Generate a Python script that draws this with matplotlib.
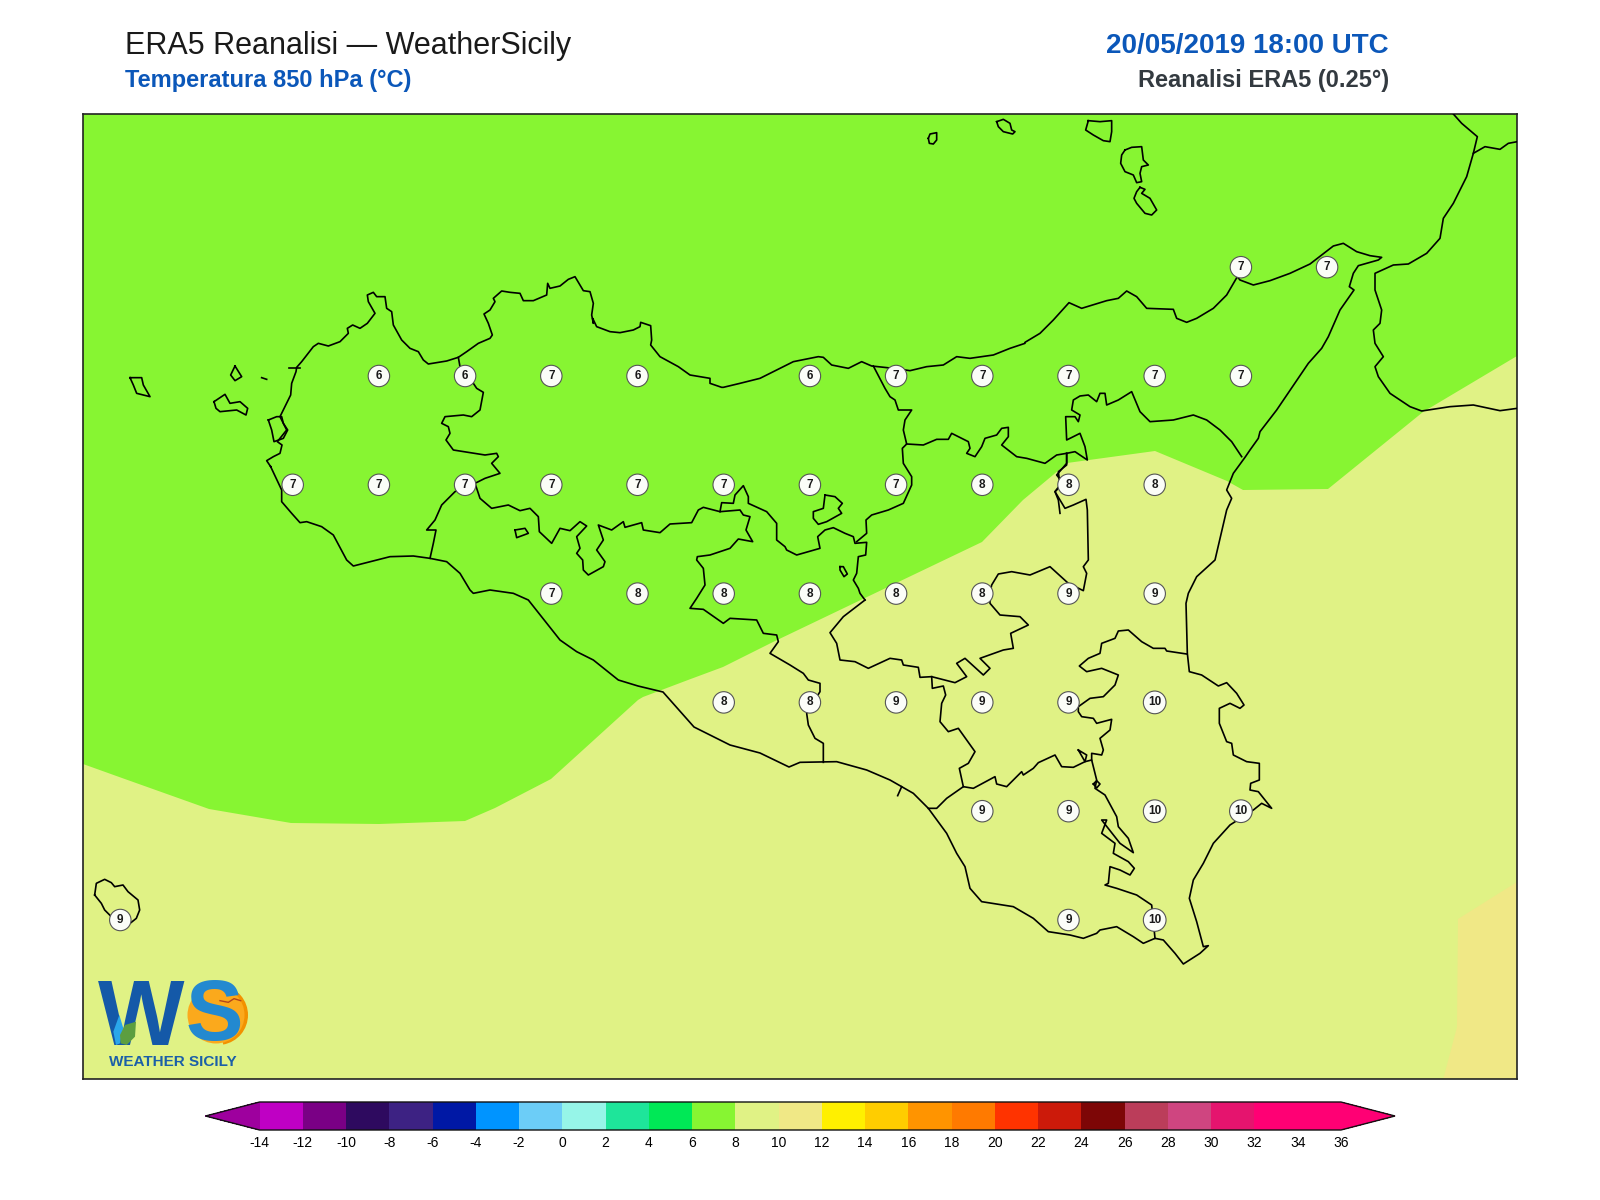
import numpy as np
import matplotlib
matplotlib.use('Agg')
import matplotlib.pyplot as plt
from matplotlib.colors import ListedColormap, BoundaryNorm
from matplotlib.colorbar import ColorbarBase
from matplotlib.patches import Circle, Wedge, Polygon

plt.rcParams['font.family'] = ['Liberation Sans', 'DejaVu Sans']
plt.rcParams['axes.unicode_minus'] = False

# colour scale
levels = list(range(-14, 38, 2))
tick_levels = list(range(-14, 38, 2))
band_colors = ['#bf00c4', '#7a0085', '#2e0a5f', '#3d2283', '#0018a5', '#0094ff', '#6ccdf7',
               '#96f5e8', '#1ee59a', '#00e856', '#87f532', '#e0f285', '#f0e886', '#fff000',
               '#ffcd00', '#ff9400', '#ff7a00', '#ff3300', '#cc1a0a', '#7d0606', '#bb3d5a',
               '#cf4580', '#e5146e', '#ff0074', '#ff0074']
under_color = '#9e009e'
over_color = '#ff0074'

# grid point temperatures, (lon, lat, value)
grid_lons = [15.25, 15.5,
             12.75, 13.0, 13.25, 13.5, 14.0, 14.25, 14.5, 14.75, 15.0, 15.25,
             12.5, 12.75, 13.0, 13.25, 13.5, 13.75, 14.0, 14.25, 14.5, 14.75, 15.0,
             13.25, 13.5, 13.75, 14.0, 14.25, 14.5, 14.75, 15.0,
             13.75, 14.0, 14.25, 14.5, 14.75, 15.0,
             14.5, 14.75, 15.0, 15.25,
             12.0, 14.75, 15.0]
grid_lats = [38.25, 38.25,
             38.0, 38.0, 38.0, 38.0, 38.0, 38.0, 38.0, 38.0, 38.0, 38.0,
             37.75, 37.75, 37.75, 37.75, 37.75, 37.75, 37.75, 37.75, 37.75, 37.75, 37.75,
             37.5, 37.5, 37.5, 37.5, 37.5, 37.5, 37.5, 37.5,
             37.25, 37.25, 37.25, 37.25, 37.25, 37.25,
             37.0, 37.0, 37.0, 37.0,
             36.75, 36.75, 36.75]
grid_vals = [7, 7,
             6, 6, 7, 6, 6, 7, 7, 7, 7, 7,
             7, 7, 7, 7, 7, 7, 7, 7, 8, 8, 8,
             7, 8, 8, 8, 8, 8, 9, 9,
             8, 8, 9, 9, 9, 10,
             9, 9, 10, 10,
             9, 9, 10]


def crop(ox, oy, pts, div=3.0):
    return np.array(pts, dtype=float) / div + [ox, oy]


# isotherms
iso8 = crop(0, 0, [(83, 764), (122, 778), (209, 809), (291, 823), (379, 824), (465, 821), (495, 808),
                   (551, 779), (638, 700), (643, 697), (688, 680), (723, 667), (773, 642), (867, 597),
                   (982, 542), (1023, 500), (1053, 475), (1067, 463), (1155, 451), (1227, 481),
                   (1243, 490), (1328, 489), (1423, 412), (1517, 356), (1517, 1080), (83, 1080)], div=1)
iso10 = crop(0, 0, [(1517, 882), (1458, 919), (1457, 1027), (1443, 1080), (1517, 1080)], div=1)

# Sicily coast, clockwise from the Trapani side
coast = np.vstack([
    crop(80, 260, [(572, 620), (560, 602), (580, 590), (600, 580), (606, 555), (592, 545), (620, 510),
                   (610, 490), (600, 470), (632, 405), (635, 370), (648, 335), (650, 322), (665, 305),
                   (700, 260), (715, 250), (745, 258), (780, 245), (805, 220), (802, 205), (818, 195),
                   (840, 205), (862, 190), (885, 160), (865, 125), (862, 105), (880, 97), (890, 110),
                   (915, 110), (920, 145), (935, 155), (940, 195), (965, 240), (990, 265), (1015, 275),
                   (1030, 300), (1045, 312), (1100, 303), (1135, 292), (1160, 275), (1195, 250),
                   (1230, 235), (1237, 225), (1225, 190), (1212, 162), (1230, 150), (1245, 125),
                   (1240, 115), (1265, 93), (1290, 97), (1320, 100), (1330, 122), (1360, 122),
                   (1400, 105), (1403, 70), (1410, 85), (1440, 78), (1465, 58), (1485, 50), (1497, 70),
                   (1510, 92), (1530, 95), (1540, 130), (1535, 165), (1540, 190)]),
    crop(440, 260, [(458, 175), (470, 200), (510, 215), (540, 218), (580, 210), (600, 200), (602, 187),
                    (632, 197), (635, 240), (632, 255), (660, 290), (715, 320), (750, 345), (810, 355),
                    (810, 370), (845, 382)]),
    crop(560, 340, [(490, 142), (540, 130), (600, 115), (700, 65), (775, 50), (790, 52), (815, 75),
                    (865, 85), (905, 65), (935, 78), (1000, 85), (1050, 92), (1100, 80), (1150, 75),
                    (1190, 50), (1230, 55), (1300, 45), (1350, 25), (1395, 10)]),
    crop(1000, 110, [(75, 697), (120, 670), (160, 630), (207, 578), (245, 595), (320, 572), (355, 565),
                     (380, 543), (410, 560), (440, 595), (520, 598), (530, 625), (560, 637), (590, 625),
                     (640, 595), (680, 555), (712, 500), (720, 510), (760, 525), (810, 512), (870, 490),
                     (930, 462), (1000, 408), (1030, 400), (1070, 425), (1110, 437), (1145, 442),
                     (1135, 450), (1075, 467), (1060, 490), (1048, 530), (1062, 540), (1020, 600),
                     (985, 680), (965, 715), (925, 760), (830, 900), (780, 965), (775, 985), (750, 1020),
                     (735, 1042), (700, 1090), (680, 1140), (695, 1165), (680, 1200)]),
    crop(800, 560, [(1245, 0), (1190, 50), (1165, 100), (1158, 130), (1162, 280), (1168, 335), (1205, 345),
                    (1255, 378), (1280, 368), (1310, 400), (1332, 435), (1320, 445), (1290, 430),
                    (1258, 445), (1258, 490), (1280, 545), (1295, 550), (1300, 585), (1340, 605),
                    (1378, 610), (1378, 660), (1352, 670), (1350, 690), (1375, 695), (1415, 745),
                    (1385, 730), (1360, 750), (1290, 795), (1240, 850), (1210, 910), (1180, 960),
                    (1168, 1015), (1190, 1085), (1210, 1160), (1225, 1157), (1200, 1180), (1150, 1212),
                    (1125, 1180), (1090, 1140), (1065, 1135), (1030, 1150), (1000, 1130), (950, 1100),
                    (900, 1110), (890, 1120), (850, 1135), (810, 1125), (745, 1115), (700, 1075),
                    (640, 1040), (545, 1025), (510, 985), (495, 920), (470, 880), (440, 820), (385, 745),
                    (340, 700), (305, 680), (270, 660), (200, 630), (110, 605), (0, 607)]),
    crop(0, 0, [(789, 767), (760, 753), (730, 745), (694, 727), (663, 692), (638, 686)], div=1),
    crop(560, 340, [(175, 1020), (150, 1000), (100, 960), (50, 935), (0, 900)]),
    crop(80, 260, [(1345, 1020), (1300, 1000), (1230, 990), (1180, 1000), (1170, 990), (1140, 940),
                   (1100, 905), (1050, 895), (1000, 888), (930, 890), (820, 918), (800, 900), (760, 825),
                   (725, 800), (680, 785), (660, 788), (635, 760), (605, 725), (605, 690), (572, 620)]),
])

calabria = crop(1000, 110, [(1360, 12), (1385, 40), (1432, 80), (1420, 130), (1400, 200), (1360, 280),
                            (1330, 325), (1320, 385), (1280, 430), (1225, 462), (1180, 465), (1125, 490),
                            (1125, 540), (1145, 600), (1140, 640), (1120, 660), (1125, 700), (1150, 740),
                            (1125, 770), (1135, 800), (1170, 850), (1230, 890), (1265, 903), (1350, 890),
                            (1420, 885), (1500, 902), (1552, 895)])
calabria_branch = crop(1000, 110, [(1420, 130), (1455, 110), (1500, 118), (1525, 100), (1552, 95)])

# province borders
borders = [
    crop(80, 260, [(1135, 292), (1140, 320), (1180, 370), (1190, 385), (1210, 397), (1200, 450), (1175, 470),
                   (1150, 465), (1095, 470), (1085, 490), (1105, 500), (1110, 520), (1098, 540), (1120, 570),
                   (1215, 585), (1250, 580), (1255, 590), (1235, 610), (1260, 640), (1215, 655), (1185, 670),
                   (1155, 680), (1125, 695), (1085, 735), (1065, 780), (1040, 810), (1068, 810), (1060, 850),
                   (1050, 895)]),
    np.vstack([
        crop(80, 260, [(1185, 670), (1200, 715), (1235, 745), (1285, 735), (1320, 752), (1350, 745),
                       (1375, 770), (1378, 815), (1415, 850), (1440, 805), (1470, 812), (1500, 785),
                       (1520, 798), (1490, 830), (1500, 865), (1490, 880), (1508, 900), (1510, 930),
                       (1525, 945)]),
        crop(560, 340, [(130, 680), (135, 665), (110, 630), (130, 600), (115, 555), (155, 570), (190, 545),
                        (195, 562), (245, 548), (250, 570), (300, 578), (330, 552), (395, 548), (415, 510),
                        (430, 502), (480, 515), (540, 510), (550, 525), (570, 530), (558, 570), (578, 605),
                        (535, 597), (510, 625), (450, 645), (412, 650), (410, 660), (430, 685), (435, 735),
                        (410, 775), (390, 805), (430, 808), (490, 850), (510, 835), (590, 840), (610, 880),
                        (650, 885), (655, 905), (630, 940), (690, 975), (730, 1000), (745, 1020)]),
        crop(800, 560, [(60, 370), (60, 395), (20, 460), (25, 495), (45, 535), (70, 550), (70, 607)]),
    ]),
    crop(560, 340, [(940, 78), (975, 145), (990, 170), (1005, 180), (1015, 210), (1055, 210), (1035, 240),
                    (1030, 270), (1040, 312), (1027, 325), (1030, 370), (1055, 410), (1055, 435), (1030, 490),
                    (985, 510), (935, 525), (918, 540), (920, 580), (890, 605)]),
    crop(560, 340, [(480, 515), (485, 488), (520, 490), (525, 465), (550, 437), (565, 470), (565, 490),
                    (620, 515), (650, 550), (650, 600), (675, 620), (680, 630), (710, 645), (780, 625),
                    (773, 590), (795, 570), (820, 563), (855, 580), (880, 590), (885, 610), (920, 607),
                    (917, 645), (895, 650), (890, 700), (880, 720), (895, 745), (900, 760), (915, 780)]),
    np.vstack([
        crop(800, 560, [(195, 120), (130, 170), (90, 218), (110, 250), (120, 300), (165, 305), (205, 325),
                        (270, 295), (305, 300), (310, 315), (355, 322), (360, 352), (395, 350), (465, 368),
                        (500, 350), (470, 310), (495, 295), (550, 345), (570, 325), (540, 295), (610, 270),
                        (640, 265), (632, 220), (685, 195), (660, 170), (600, 165), (570, 130), (570, 100),
                        (575, 75), (595, 42), (635, 35), (690, 45), (750, 20), (805, 70), (850, 92), (860, 40),
                        (850, 20), (865, 0)]),
        crop(1000, 110, [(262, 1200), (258, 1168), (220, 1185), (195, 1195), (180, 1170), (165, 1145),
                         (180, 1125), (175, 1085), (200, 1065), (200, 1030)]),
    ]),
    np.vstack([
        crop(560, 340, [(1040, 312), (1090, 315), (1130, 298), (1165, 298), (1175, 280), (1225, 305),
                        (1230, 325), (1220, 340), (1245, 350), (1265, 320), (1275, 295), (1310, 285),
                        (1325, 265), (1345, 262), (1345, 290), (1325, 315), (1370, 350), (1400, 355),
                        (1455, 370), (1490, 345), (1520, 340)]),
        crop(1000, 110, [(225, 1025), (262, 1050), (255, 1010), (240, 970), (200, 990), (197, 920), (225, 920),
                         (235, 935), (240, 915), (215, 900), (220, 870), (240, 858), (265, 855), (290, 875),
                         (300, 850), (315, 850), (320, 885), (355, 870), (395, 845), (420, 905), (450, 935),
                         (520, 930), (580, 915), (620, 930), (660, 960), (695, 995), (725, 1040)]),
    ]),
    crop(800, 560, [(395, 350), (397, 385), (430, 378), (437, 405), (425, 430), (420, 485), (445, 515),
                    (475, 505), (525, 575), (505, 610), (478, 625), (490, 680)]),
    crop(800, 560, [(385, 745), (410, 745), (440, 715), (490, 680), (520, 685), (585, 650), (590, 672),
                    (620, 680), (665, 635), (670, 645), (700, 625), (715, 608), (765, 585), (785, 620),
                    (820, 622), (855, 605), (875, 600), (890, 660), (885, 685), (915, 705), (950, 770),
                    (955, 800), (985, 835), (1000, 878), (960, 850), (905, 780), (920, 780), (905, 820),
                    (945, 850), (940, 880), (985, 905), (1003, 925), (990, 945), (960, 930), (930, 920),
                    (925, 970), (915, 975), (950, 985), (1010, 1005), (1055, 1035), (1065, 1135)]),
    crop(800, 560, [(835, 570), (860, 585), (855, 605), (835, 570)]),
    crop(800, 560, [(875, 600), (875, 580), (905, 585), (910, 570), (900, 535), (930, 510), (935, 478), (890, 490),
                    (880, 475), (845, 470), (835, 455), (835, 440), (870, 415), (910, 410), (945, 375),
                    (955, 345), (905, 325), (860, 335), (838, 318), (865, 295), (900, 280), (905, 250),
                    (945, 235), (955, 213), (985, 210), (1025, 245), (1060, 265), (1095, 265), (1100, 273),
                    (1160, 282)]),
    crop(800, 560, [(305, 680), (293, 707)]),
    crop(560, 340, [(1520, 340), (1520, 370), (1490, 405), (1510, 430), (1485, 455), (1495, 480), (1500, 520)]),
]

# islands and lakes
islands = [
    crop(80, 260, [(150, 353), (185, 353), (190, 375), (210, 410), (170, 400), (160, 375), (150, 353)]),
    crop(80, 260, [(465, 318), (485, 350), (465, 362), (452, 345), (465, 318)]),
    crop(80, 260, [(402, 425), (435, 403), (450, 430), (480, 425), (503, 445), (498, 465), (470, 450),
                   (420, 455), (408, 445), (402, 425)]),
    crop(80, 260, [(545, 353), (560, 358)]),
    crop(80, 260, [(628, 325), (660, 325)]),
    crop(80, 260, [(565, 480), (590, 470), (605, 470), (610, 490), (623, 510), (610, 535), (582, 545),
                   (575, 510), (565, 480)]),
    crop(80, 260, [(1305, 810), (1335, 805), (1345, 820), (1310, 833), (1305, 810)]),
    crop(560, 340, [(795, 465), (825, 470), (847, 490), (835, 505), (845, 520), (800, 545), (775, 553),
                    (760, 535), (760, 515), (790, 505), (795, 465)]),
    crop(560, 340, [(840, 680), (850, 680), (862, 702), (852, 710), (840, 690), (840, 680)]),
    crop(880, 110, [(145, 85), (150, 72), (170, 68), (170, 90), (160, 102), (148, 100), (145, 85)]),
    crop(880, 110, [(350, 35), (370, 28), (390, 40), (395, 60), (405, 65), (398, 72), (370, 65), (355, 50), (350, 35)]),
    crop(880, 110, [(625, 32), (660, 35), (695, 32), (695, 65), (690, 95), (670, 92), (640, 75), (617, 60), (625, 32)]),
    crop(880, 110, [(735, 120), (755, 112), (785, 110), (790, 150), (805, 165), (785, 170), (780, 190),
                    (785, 215), (770, 218), (760, 195), (735, 185), (722, 160), (725, 135), (735, 120)]),
    crop(880, 110, [(780, 232), (795, 238), (785, 250), (810, 265), (830, 300), (815, 315), (795, 310),
                    (770, 280), (762, 265), (770, 245), (780, 232)]),
    crop(83, 860, [(35, 105), (40, 70), (65, 58), (85, 68), (95, 80), (120, 75), (135, 95), (165, 120),
                   (170, 150), (160, 175), (135, 195), (110, 205), (85, 170), (65, 150), (55, 130), (35, 105)]),
    crop(800, 560, [(880, 672), (890, 662), (900, 672), (890, 684), (880, 672)]),
]


def to_lon(x):
    return 12.5 + (x - 292.7) / 344.8


def to_lat(y):
    return 38.0 - (y - 376.0) / 435.2


def draw_line(ax, pts):
    ax.plot(to_lon(pts[:, 0]), to_lat(pts[:, 1]), color='black', lw=1.2, zorder=3, solid_joinstyle='round')


fig = plt.figure(figsize=(16, 12), dpi=100)
W_PX, H_PX = 1600.0, 1200.0

ax = fig.add_axes([83 / W_PX, 1 - 1079 / H_PX, 1433.5 / W_PX, 965.5 / H_PX])
ax.set_xlim(to_lon(83), to_lon(1516.5))
ax.set_ylim(to_lat(1079), to_lat(113.5))
ax.set_facecolor(band_colors[10])
ax.set_xticks([])
ax.set_yticks([])
for s in ax.spines.values():
    s.set_linewidth(1.2)
    s.set_color('#222222')

ax.fill(to_lon(iso8[:, 0]), to_lat(iso8[:, 1]), color=band_colors[11], lw=0, zorder=1)
ax.fill(to_lon(iso10[:, 0]), to_lat(iso10[:, 1]), color=band_colors[12], lw=0, zorder=2)

draw_line(ax, coast)
draw_line(ax, calabria)
draw_line(ax, calabria_branch)
for b in borders:
    draw_line(ax, b)
for isl in islands:
    draw_line(ax, isl)

for lon, lat, val in zip(grid_lons, grid_lats, grid_vals):
    ax.text(lon, lat, str(val), ha='center', va='center', fontsize=8.5, fontweight='bold', color='#1a1a1a',
            zorder=5, bbox=dict(boxstyle='circle,pad=0.4', facecolor='#fbfdf8', edgecolor='#555555', lw=0.8))

# titles
fig.text(125 / W_PX, 1 - 54 / H_PX, 'ERA5 Reanalisi \u2014 WeatherSicily', fontsize=22, color='#1a1a1a')
fig.text(125 / W_PX, 1 - 87 / H_PX, 'Temperatura 850 hPa (\u00b0C)', fontsize=17, fontweight='bold', color='#0b57b9')
fig.text(1389 / W_PX, 1 - 53 / H_PX, '20/05/2019 18:00 UTC', fontsize=20, fontweight='bold', color='#0b57b9', ha='right')
fig.text(1389 / W_PX, 1 - 87 / H_PX, 'Reanalisi ERA5 (0.25\u00b0)', fontsize=17, fontweight='bold', color='#333a40', ha='right')

# colour bar, the axes run from tip to tip
cax = fig.add_axes([205.5 / W_PX, 1 - 1130 / H_PX, 1189.5 / W_PX, 28 / H_PX])
cmap = ListedColormap(band_colors)
cmap.set_under(under_color)
cmap.set_over(over_color)
norm = BoundaryNorm(levels, cmap.N)
cb = ColorbarBase(cax, cmap=cmap, norm=norm, orientation='horizontal', extend='both',
                  extendfrac=0.05, spacing='proportional', ticks=tick_levels)
cb.ax.tick_params(length=0, pad=4, labelsize=10)
cb.outline.set_linewidth(1.0)
cb.outline.set_edgecolor('#111111')

# logo, drawn in map pixels
logo = fig.add_axes([83 / W_PX, 1 - 1078 / H_PX, 200 / W_PX, 118 / H_PX], zorder=6)
logo.set_xlim(83, 283)
logo.set_ylim(1078, 960)
logo.axis('off')
logo.add_patch(Wedge((218, 1015), 30, -80, 80, facecolor='#f29100', lw=0))
logo.add_patch(Circle((216, 1015), 28.5, facecolor='#fba91c', lw=0))
logo.text(141, 1045, 'W', fontsize=66, fontweight='bold', color='#1459a8', ha='center', va='baseline')
logo.text(214, 1040, 'S', fontsize=62, fontweight='bold', color='#2389d0', ha='center', va='baseline')
logo.add_patch(Polygon(crop(80, 960, [(100, 215), (118, 165), (130, 205), (120, 250), (108, 255)]),
                       facecolor='#2aa7ea', lw=0, zorder=4))
logo.add_patch(Polygon(crop(80, 960, [(120, 225), (135, 195), (168, 185), (165, 230), (140, 255), (122, 250)]),
                       facecolor='#5c9e3f', lw=0, zorder=4))
logo.plot(*crop(80, 960, [(420, 122), (445, 127), (462, 116), (482, 122)]).T, color='#b5461a', lw=1, zorder=4)
logo.text(173, 1066, 'WEATHER SICILY', fontsize=11, fontweight='bold', color='#1b5fa8', ha='center', va='baseline')

plt.savefig('out.png', dpi=100)
